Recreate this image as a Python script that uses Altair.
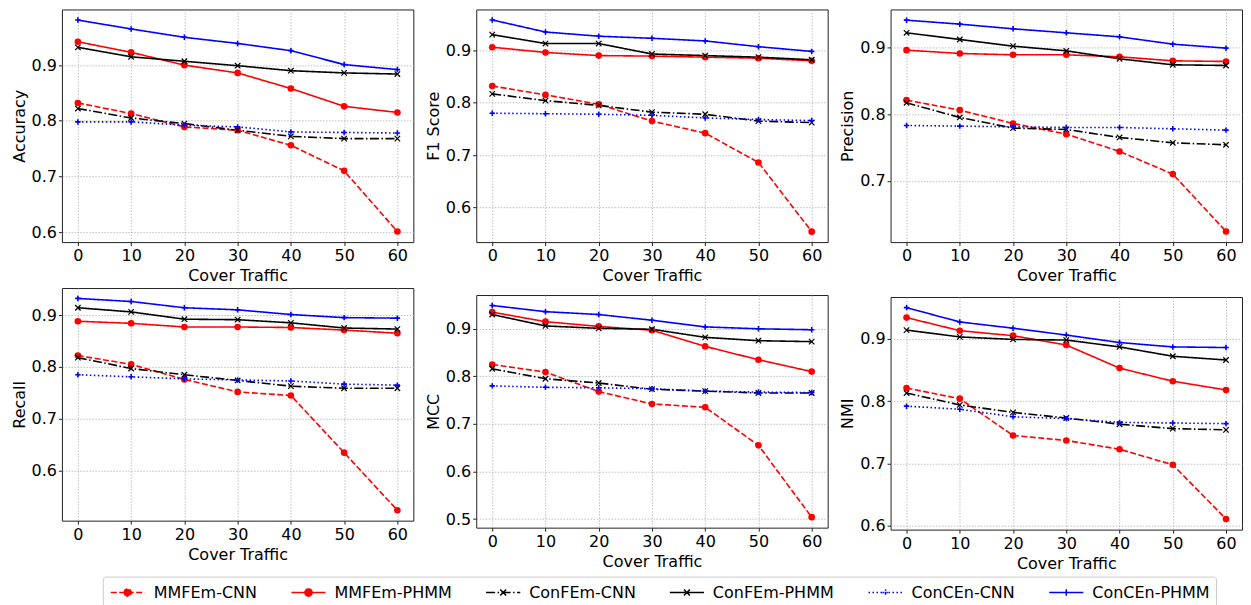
import altair as alt
import pandas as pd

series = ["MMFEm-CNN", "MMFEm-PHMM", "ConFEm-CNN", "ConFEm-PHMM", "ConCEn-CNN", "ConCEn-PHMM"]
cover = [0, 10, 20, 30, 40, 50, 60]

accuracy = {
    "MMFEm-CNN":   [0.832, 0.813, 0.789, 0.783, 0.756, 0.710, 0.601],
    "MMFEm-PHMM":  [0.942, 0.923, 0.900, 0.886, 0.858, 0.826, 0.815],
    "ConFEm-CNN":  [0.822, 0.805, 0.795, 0.783, 0.772, 0.768, 0.768],
    "ConFEm-PHMM": [0.932, 0.915, 0.907, 0.899, 0.890, 0.886, 0.884],
    "ConCEn-CNN":  [0.798, 0.798, 0.792, 0.789, 0.780, 0.779, 0.778],
    "ConCEn-PHMM": [0.981, 0.965, 0.950, 0.939, 0.926, 0.901, 0.892],
}
f1_score = {
    "MMFEm-CNN":   [0.832, 0.815, 0.797, 0.765, 0.742, 0.686, 0.554],
    "MMFEm-PHMM":  [0.906, 0.896, 0.890, 0.889, 0.887, 0.885, 0.880],
    "ConFEm-CNN":  [0.817, 0.804, 0.795, 0.782, 0.778, 0.765, 0.762],
    "ConFEm-PHMM": [0.930, 0.913, 0.913, 0.893, 0.890, 0.887, 0.882],
    "ConCEn-CNN":  [0.780, 0.779, 0.778, 0.776, 0.771, 0.768, 0.766],
    "ConCEn-PHMM": [0.958, 0.935, 0.927, 0.923, 0.918, 0.907, 0.898],
}
precision = {
    "MMFEm-CNN":   [0.821, 0.806, 0.786, 0.770, 0.744, 0.710, 0.624],
    "MMFEm-PHMM":  [0.896, 0.891, 0.889, 0.889, 0.886, 0.880, 0.879],
    "ConFEm-CNN":  [0.817, 0.795, 0.779, 0.777, 0.765, 0.757, 0.754],
    "ConFEm-PHMM": [0.922, 0.912, 0.902, 0.895, 0.883, 0.874, 0.873],
    "ConCEn-CNN":  [0.783, 0.782, 0.781, 0.780, 0.780, 0.778, 0.776],
    "ConCEn-PHMM": [0.941, 0.935, 0.928, 0.922, 0.916, 0.905, 0.899],
}
recall = {
    "MMFEm-CNN":   [0.822, 0.805, 0.776, 0.752, 0.745, 0.635, 0.524],
    "MMFEm-PHMM":  [0.888, 0.884, 0.877, 0.877, 0.876, 0.871, 0.865],
    "ConFEm-CNN":  [0.818, 0.797, 0.785, 0.774, 0.763, 0.759, 0.759],
    "ConFEm-PHMM": [0.914, 0.906, 0.892, 0.891, 0.885, 0.875, 0.873],
    "ConCEn-CNN":  [0.785, 0.781, 0.777, 0.775, 0.773, 0.767, 0.765],
    "ConCEn-PHMM": [0.932, 0.926, 0.914, 0.910, 0.901, 0.895, 0.894],
}
mcc = {
    "MMFEm-CNN":   [0.825, 0.809, 0.768, 0.742, 0.735, 0.655, 0.504],
    "MMFEm-PHMM":  [0.935, 0.915, 0.905, 0.897, 0.863, 0.835, 0.810],
    "ConFEm-CNN":  [0.816, 0.795, 0.786, 0.773, 0.769, 0.765, 0.765],
    "ConFEm-PHMM": [0.930, 0.906, 0.901, 0.899, 0.882, 0.875, 0.873],
    "ConCEn-CNN":  [0.780, 0.777, 0.776, 0.774, 0.769, 0.767, 0.766],
    "ConCEn-PHMM": [0.949, 0.936, 0.930, 0.918, 0.904, 0.900, 0.898],
}
nmi = {
    "MMFEm-CNN":   [0.821, 0.804, 0.745, 0.737, 0.723, 0.698, 0.611],
    "MMFEm-PHMM":  [0.934, 0.913, 0.905, 0.890, 0.853, 0.832, 0.818],
    "ConFEm-CNN":  [0.813, 0.794, 0.782, 0.773, 0.763, 0.756, 0.754],
    "ConFEm-PHMM": [0.914, 0.903, 0.899, 0.898, 0.887, 0.872, 0.866],
    "ConCEn-CNN":  [0.792, 0.787, 0.775, 0.772, 0.766, 0.765, 0.764],
    "ConCEn-PHMM": [0.950, 0.927, 0.917, 0.906, 0.894, 0.887, 0.886],
}

y_domains = {
    "Accuracy": [0.582, 1.0], "F1 Score": [0.534, 0.978], "Precision": [0.608, 0.957],
    "Recall": [0.504, 0.952], "MCC": [0.482, 0.971], "NMI": [0.594, 0.967],
}
y_ticks = {
    "Accuracy": [0.6, 0.7, 0.8, 0.9], "F1 Score": [0.6, 0.7, 0.8, 0.9], "Precision": [0.7, 0.8, 0.9],
    "Recall": [0.6, 0.7, 0.8, 0.9], "MCC": [0.5, 0.6, 0.7, 0.8, 0.9], "NMI": [0.6, 0.7, 0.8, 0.9],
}

colors = ["#ff0000", "#ff0000", "#000000", "#000000", "#0000ff", "#0000ff"]
dashes = [[6, 2.5], [1, 0], [9, 2.5, 1.5, 2.5], [1, 0], [1.5, 2.5], [1, 0]]
marker_kind = ["circle", "circle", "x", "x", "plus", "plus"]

X_PATH = "M-1,-1L1,1M-1,1L1,-1"
PLUS_PATH = "M-1,0L1,0M0,-1L0,1"
LEG_LINE = "M-1.9,0L1.9,0"
LEG_MARK = {
    "circle": "M-0.4,0A0.4,0.4,0,1,0,0.4,0A0.4,0.4,0,1,0,-0.4,0Z",
    "x": "M-0.33,-0.33L0.33,0.33M-0.33,0.33L0.33,-0.33",
    "plus": "M-0.36,0L0.36,0M0,-0.36L0,0.36",
}
leg_shapes = [LEG_LINE + LEG_MARK[k] for k in marker_kind]

W, H = 352, 233


def make_panel(name, values, with_legend=False):
    rows = []
    for s in series:
        for c, v in zip(cover, values[s]):
            rows.append({"cover": c, "value": v, "series": s, "label": s})
    df = pd.DataFrame(rows)
    base = alt.Chart(df)
    x = alt.X("cover:Q", scale=alt.Scale(domain=[-3, 63], nice=False, zero=False),
              axis=alt.Axis(values=cover, title="Cover Traffic", format="d"))
    y = alt.Y("value:Q", scale=alt.Scale(domain=y_domains[name], nice=False, zero=False),
              axis=alt.Axis(values=y_ticks[name], title=name, format=".1f"))
    layers = []
    for s, col, dash in zip(series, colors, dashes):
        layers.append(base.transform_filter(alt.datum.series == s)
                      .mark_line(color=col, strokeDash=dash, strokeWidth=1.6)
                      .encode(x=x, y=y))
    for s, col, kind in zip(series, colors, marker_kind):
        sub = base.transform_filter(alt.datum.series == s)
        if kind == "circle":
            m = sub.mark_point(shape="circle", filled=True, size=44, color=col, opacity=1)
        elif kind == "x":
            m = sub.mark_point(shape=X_PATH, filled=False, size=30, color=col,
                               strokeWidth=1.2, opacity=1)
        else:
            m = sub.mark_point(shape=PLUS_PATH, filled=False, size=30, color=col,
                               strokeWidth=1.6, opacity=1)
        layers.append(m.encode(x=x, y=y))
    if with_legend:
        leg = alt.Legend(title=None, orient="none", legendX=41, legendY=568,
                         direction="horizontal", columns=6, symbolSize=324,
                         symbolStrokeWidth=1.5, labelFontSize=16, labelFont="DejaVu Sans",
                         labelColor="black", strokeColor="#cccccc", fillColor="white",
                         cornerRadius=3, padding=6, columnPadding=30, labelOffset=16,
                         symbolOffset=9)
        sc = lambda rng: alt.Scale(domain=series, range=rng)
        layers.append(
            base.transform_filter("datum.cover < -100")
            .mark_point(opacity=1, strokeWidth=1.5)
            .encode(
                x=x, y=y,
                fill=alt.Fill("label:N", scale=sc(colors), legend=leg),
                stroke=alt.Stroke("label:N", scale=sc(colors), legend=leg),
                shape=alt.Shape("label:N", scale=sc(leg_shapes), legend=leg),
                strokeDash=alt.StrokeDash("label:N", scale=sc(dashes), legend=leg),
            )
        )
    return alt.layer(*layers).properties(width=W, height=H)


p_acc = make_panel("Accuracy", accuracy, with_legend=True)
p_f1 = make_panel("F1 Score", f1_score)
p_prec = make_panel("Precision", precision)
p_rec = make_panel("Recall", recall)
p_mcc = make_panel("MCC", mcc)
p_nmi = make_panel("NMI", nmi)

col1 = alt.vconcat(p_acc, p_rec, spacing=46, bounds="flush")
col2 = alt.vconcat(p_f1, p_mcc, spacing=53, bounds="flush")
col3 = alt.vconcat(p_prec, p_nmi, spacing=55, bounds="flush")

chart = (
    alt.hconcat(col1, col2, col3, spacing=10)
    .properties(padding={"left": 2, "top": 0, "right": 0, "bottom": 0})
    .configure(font="DejaVu Sans")
    .configure_view(stroke="#222222", strokeWidth=1)
    .configure_axis(
        grid=True, gridColor="#b0b0b0", gridDash=[1.5, 1.5], gridWidth=0.8,
        domain=False, tickColor="#222222", tickSize=3.5, tickWidth=1,
        labelFontSize=16, labelColor="black", labelPadding=2, labelFont="DejaVu Sans",
        titleFontSize=16, titleFontWeight="normal", titleColor="black", titlePadding=4,
        titleFont="DejaVu Sans",
    )
)

chart.save("out.html", embed_options={"renderer": "svg", "actions": False})
